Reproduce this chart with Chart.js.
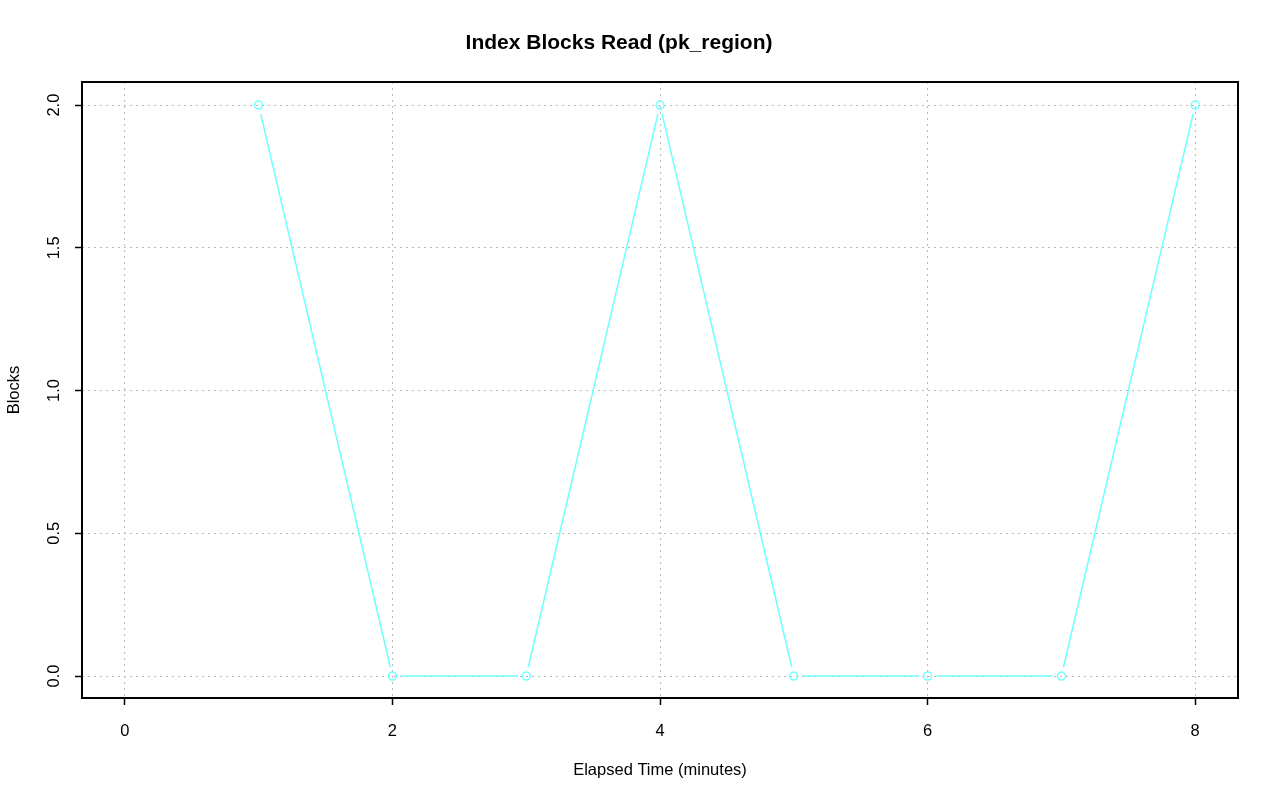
<!DOCTYPE html>
<html>
<head>
<meta charset="utf-8">
<script src="https://cdn.jsdelivr.net/npm/chart.js@4/dist/chart.umd.min.js"></script>
<style>
  html, body { margin: 0; padding: 0; background: #fff; overflow: hidden; }
  canvas { display: block; }
</style>
</head>
<body>
<canvas id="grafico" width="1280" height="801"></canvas>
<script>
const minutos = [1, 2, 3, 4, 5, 6, 7, 8];
const blocos = [2, 0, 0, 2, 0, 0, 0, 2];
const xTicks = [0, 2, 4, 6, 8];
const yTicks = [0, 0.5, 1.0, 1.5, 2.0];

const ciano = '#70ffff';
const fonte = '"Liberation Sans", Arial, sans-serif';

// lines between points with small gaps, like R type="b"
const linhasComFolga = {
	id: 'linhasComFolga',
	afterDatasetsDraw(chart) {
		const pts = chart.getDatasetMeta(0).data;
		const c = chart.ctx;
		const folga = 9;
		c.save();
		c.strokeStyle = ciano;
		c.lineWidth = 1.5;
		for (let i = 0; i < pts.length - 1; i++) {
			const a = pts[i], b = pts[i + 1];
			const dx = b.x - a.x, dy = b.y - a.y;
			const len = Math.hypot(dx, dy);
			if (len <= folga * 2) continue;
			const ux = dx / len, uy = dy / len;
			c.beginPath();
			c.moveTo(a.x + ux * folga, a.y + uy * folga);
			c.lineTo(b.x - ux * folga, b.y - uy * folga);
			c.stroke();
		}
		c.restore();
	}
};

// box around the plot and rotated y tick labels
const moldura = {
	id: 'moldura',
	afterDraw(chart) {
		const c = chart.ctx;
		const a = chart.chartArea;
		const y = chart.scales.y;
		c.save();
		c.strokeStyle = '#000';
		c.lineWidth = 2;
		c.strokeRect(a.left, a.top, a.right - a.left, a.bottom - a.top);
		c.fillStyle = '#000';
		c.font = '16.5px ' + fonte;
		c.textAlign = 'center';
		c.textBaseline = 'middle';
		yTicks.forEach(v => {
			const py = y.getPixelForValue(v);
			c.save();
			c.translate(54, py);
			c.rotate(-Math.PI / 2);
			c.fillText(v.toFixed(1), 0, 0);
			c.restore();
		});
		c.restore();
	}
};

new Chart(document.getElementById('grafico').getContext('2d'), {
	type: 'scatter',
	data: {
		datasets: [{
			data: minutos.map((m, i) => ({ x: m, y: blocos[i] })),
			showLine: false,
			pointStyle: 'circle',
			pointRadius: 4,
			pointBorderWidth: 1.5,
			pointBorderColor: ciano,
			pointBackgroundColor: 'rgba(0,0,0,0)'
		}]
	},
	options: {
		responsive: false,
		animation: false,
		devicePixelRatio: 1,
		layout: { padding: { top: 0, right: 42, bottom: 0, left: 0 } },
		plugins: {
			legend: { display: false },
			tooltip: { enabled: false },
			title: {
				display: true,
				text: 'Index Blocks Read (pk_region)',
				color: '#000',
				font: { family: fonte, size: 21, weight: 'bold', lineHeight: 1.2 },
				padding: { top: 31, bottom: 25.8 }
			}
		},
		scales: {
			x: {
				type: 'linear',
				min: -0.32,
				max: 8.32,
				afterBuildTicks: s => { s.ticks = xTicks.map(v => ({ value: v })); },
				afterFit: s => { s.height = 103; },
				ticks: { color: '#000', font: { family: fonte, size: 16.5 }, padding: 17, maxRotation: 0 },
				grid: { color: '#b8b8b8', lineWidth: 1, tickColor: '#000', tickLength: 7, tickWidth: 1.5 },
				border: { display: false, dash: [2, 4] },
				title: {
					display: true,
					text: 'Elapsed Time (minutes)',
					color: '#000',
					font: { family: fonte, size: 16.5, lineHeight: 1.2 },
					padding: { top: 0, bottom: 21 }
				}
			},
			y: {
				min: -0.077,
				max: 2.081,
				afterBuildTicks: s => { s.ticks = yTicks.map(v => ({ value: v })); },
				afterFit: s => { s.width = 82; },
				ticks: { display: false },
				grid: { color: '#b8b8b8', lineWidth: 1, tickColor: '#000', tickLength: 7, tickWidth: 1.5 },
				border: { display: false, dash: [2, 4] },
				title: {
					display: true,
					text: 'Blocks',
					color: '#000',
					font: { family: fonte, size: 16.5, lineHeight: 1.2 },
					padding: { top: 5, bottom: 0 }
				}
			}
		}
	},
	plugins: [linhasComFolga, moldura]
});
</script>
</body>
</html>
